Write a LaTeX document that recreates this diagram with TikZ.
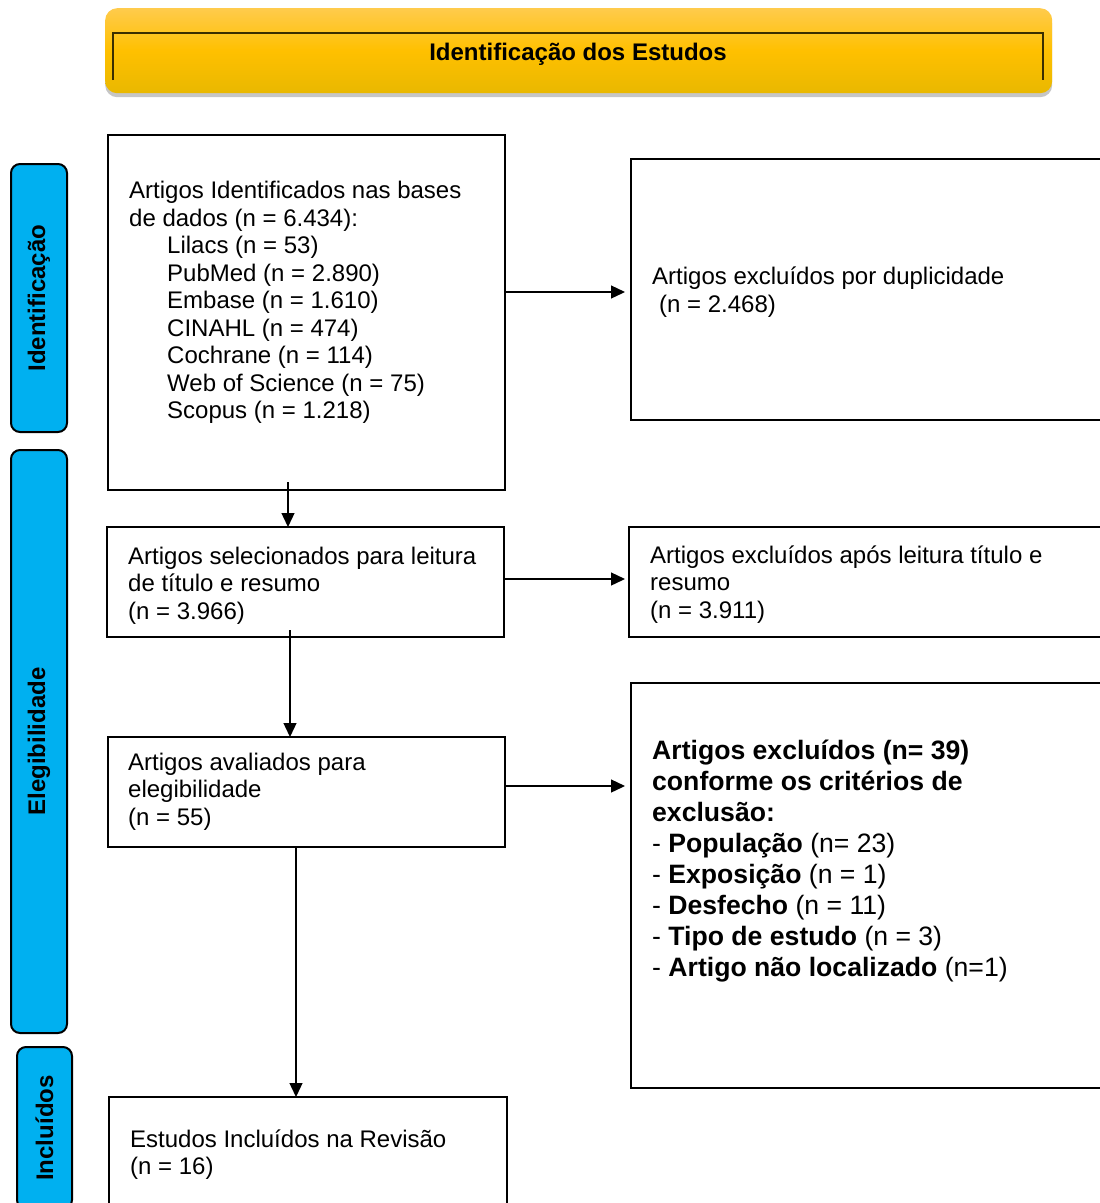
\documentclass[tikz,border=0pt]{standalone}
\usepackage{fontspec}
\setmainfont{Liberation Sans}
\usetikzlibrary{arrows.meta,shadows}
\definecolor{sideblue}{HTML}{00B0F0}
\definecolor{goldtop}{HTML}{FFCB4C}
\definecolor{goldmid}{HTML}{FFC000}
\definecolor{goldbot}{HTML}{E9B800}
\definecolor{goldline}{HTML}{3A2E00}
\begin{document}
\begin{tikzpicture}[x=1pt,y=-1pt,
  box/.style={draw=black,line width=2pt,fill=white,anchor=north west,inner sep=0pt,outer sep=0pt},
  txt/.style={anchor=north west,inner sep=0pt,align=left,font=\fontsize{24}{27.5}\selectfont},
  btxt/.style={anchor=north west,inner sep=0pt,align=left,font=\fontsize{26.6}{31}\selectfont},
  side/.style={draw=black,line width=2pt,fill=sideblue,rounded corners=9pt,rotate=90,inner sep=0pt,font=\fontsize{24}{28}\selectfont\bfseries},
  arr/.style={line width=1.3pt,-{Triangle[length=14pt,width=13pt]}}]
\useasboundingbox (0,0) rectangle (1100,1203);
\clip (0,0) rectangle (1100,1203);

% banner
\node[anchor=north west,minimum width=947pt,minimum height=85pt,rounded corners=12pt,
  top color=goldtop,bottom color=goldbot,middle color=goldmid,inner sep=0pt,
  drop shadow={shadow xshift=0pt,shadow yshift=-4pt,opacity=0.45}] (banner) at (105,8) {};
\draw[goldline,line width=1.4pt] (113,80) -- (113,33) -- (1043,33) -- (1043,80);
\node[font=\fontsize{24}{28}\selectfont\bfseries,inner sep=0pt] (title) at (578,54) {Identificação dos Estudos};

% side labels
\node[side,minimum width=268pt,minimum height=56pt] (s1) at (39,298) {Identificação};
\node[side,minimum width=583pt,minimum height=56pt] (s2) at (39,741.5) {Elegibilidade};
\node[side,minimum width=162pt,minimum height=55pt] (s3) at (44.5,1128) {Incluídos};

% boxes
\node[box,minimum width=397pt,minimum height=355pt] (b1) at (108,135) {};
\node[box,minimum width=479pt,minimum height=261pt] (r1) at (631,159) {};
\node[box,minimum width=397pt,minimum height=110pt] (b2) at (107,527) {};
\node[box,minimum width=481pt,minimum height=110pt] (r2) at (629,527) {};
\node[box,minimum width=397pt,minimum height=110pt] (b3) at (108,737) {};
\node[box,minimum width=479pt,minimum height=405pt] (r3) at (631,683) {};
\node[box,minimum width=398pt,minimum height=118pt] (b4) at (109,1097) {};

% texts
\node[txt] (t1) at (129,181) {Artigos Identificados nas bases\\de dados (n = 6.434):\\
\hspace*{38pt}Lilacs (n = 53)\\
\hspace*{38pt}PubMed (n = 2.890)\\
\hspace*{38pt}Embase (n = 1.610)\\
\hspace*{38pt}CINAHL (n = 474)\\
\hspace*{38pt}Cochrane (n = 114)\\
\hspace*{38pt}Web of Science (n = 75)\\
\hspace*{38pt}Scopus (n = 1.218)};
\node[txt] (tr1) at (652,267) {Artigos excluídos por duplicidade\\\hspace*{7pt}(n = 2.468)};
\node[txt] (t2) at (128,546.5) {Artigos selecionados para leitura\\de título e resumo\\(n = 3.966)};
\node[txt] (tr2) at (650,545.5) {Artigos excluídos após leitura título e\\resumo\\(n = 3.911)};
\node[txt] (t3) at (128,752.5) {Artigos avaliados para\\elegibilidade\\(n = 55)};
\node[btxt] (tr3) at (652,740) {\textbf{Artigos excluídos (n= 39)}\\\textbf{conforme os critérios de}\\\textbf{exclusão:}\\
- \textbf{População} (n= 23)\\
- \textbf{Exposição} (n = 1)\\
- \textbf{Desfecho} (n = 11)\\
- \textbf{Tipo de estudo} (n = 3)\\
- \textbf{Artigo não localizado} (n=1)};
\node[txt] (t4) at (130,1129.5) {Estudos Incluídos na Revisão\\(n = 16)};

% connectors
\coordinate (a1) at (625,292);
\coordinate (a2) at (625,579);
\coordinate (a3) at (625,786);
\coordinate (d1) at (288,482);
\coordinate (d2) at (290,630);
\coordinate (d3) at (296,848);
\draw[arr] (b1.east |- a1) -- (a1);
\draw[arr] (b2.east |- a2) -- (a2);
\draw[arr] (b3.east |- a3) -- (a3);
\draw[arr] (d1) -- (b2.north -| d1);
\draw[arr] (d2) -- (b3.north -| d2);
\draw[arr] (d3) -- (b4.north -| d3);
\end{tikzpicture}
\end{document}
